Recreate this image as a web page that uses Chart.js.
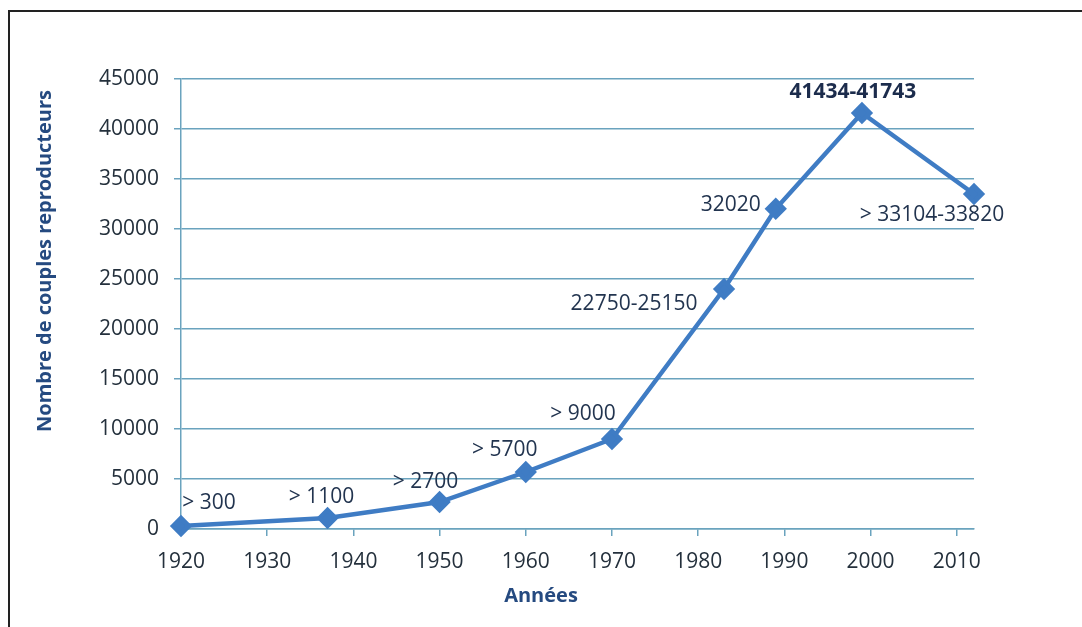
<!DOCTYPE html>
<html lang="fr">
<head>
    <meta charset="UTF-8">
    <title>Couples reproducteurs</title>
    <script src="https://cdn.jsdelivr.net/npm/chart.js@4.4.1/dist/chart.umd.min.js"></script>
    <style>
        html, body { margin: 0; padding: 0; background: #fff; }
        .box { position: relative; width: 1082px; height: 627px; overflow: hidden; }
        .frame { position: absolute; left: 8px; top: 10px; width: 1200px; height: 800px;
                 border-top: 2px solid #222; border-left: 2px solid #222; }
        canvas { position: absolute; left: 0; top: 0; }
    </style>
</head>
<body>
<div class="box">
    <div class="frame"></div>
    <canvas id="chart" width="1082" height="627"></canvas>
</div>
<script>
    // data
    const years = [1920, 1937, 1950, 1960, 1970, 1983, 1989, 1999, 2012]
    const couples = [300, 1100, 2700, 5700, 9000, 24000, 32020, 41600, 33500]
    const pointLabels = ['> 300', '> 1100', '> 2700', '> 5700', '> 9000', '22750-25150', '32020', '41434-41743', '> 33104-33820']
    const yTicks = [0, 5000, 10000, 15000, 20000, 25000, 30000, 35000, 40000, 45000]
    const xTicks = [1920, 1930, 1940, 1950, 1960, 1970, 1980, 1990, 2000, 2010]

    // where each value label sits relative to its point (px)
    const labelOffsets = [[28, -23], [-6, -21], [-14, -20], [-21, -22], [-29, -25], [-90, 15], [-45, -4], [-9, -21], [-42, 21]]
    const boldLabel = 7

    const font = '"Open Sans", "Liberation Sans", sans-serif'
    const gridColor = '#6aa3be'

    const valueLabels = {
        id: 'valueLabels',
        afterDatasetsDraw(chart) {
            const ctx = chart.ctx
            const meta = chart.getDatasetMeta(0)
            ctx.save()
            ctx.textAlign = 'center'
            ctx.textBaseline = 'middle'
            meta.data.forEach((pt, i) => {
                ctx.font = (i === boldLabel ? 'bold ' : '') + '21px ' + font
                ctx.fillStyle = i === boldLabel ? '#1c2c4c' : '#22344f'
                ctx.fillText(pointLabels[i], pt.x + labelOffsets[i][0], pt.y + labelOffsets[i][1])
            })
            ctx.restore()
        }
    }

    const axisTitles = {
        id: 'axisTitles',
        afterDraw(chart) {
            const ctx = chart.ctx
            ctx.save()
            ctx.fillStyle = '#254a80'
            ctx.font = 'bold 20px ' + font
            ctx.textAlign = 'center'
            ctx.textBaseline = 'middle'
            ctx.fillText('Années', 541, 596)
            ctx.translate(45, 261)
            ctx.rotate(-Math.PI / 2)
            ctx.fillText('Nombre de couples reproducteurs', 0, 0)
            ctx.restore()
        }
    }

    new Chart(document.getElementById('chart'), {
        type: 'line',
        data: {
            datasets: [{
                data: years.map((y, i) => ({x: y, y: couples[i]})),
                borderColor: '#3f7cc4',
                backgroundColor: '#3f7cc4',
                borderWidth: 4.5,
                pointStyle: 'rectRot',
                pointRadius: 8,
                pointHoverRadius: 8,
                tension: 0,
                clip: false
            }]
        },
        options: {
            responsive: false,
            animation: false,
            layout: {padding: {top: 79, right: 108, left: 0, bottom: 0}},
            plugins: {legend: {display: false}, tooltip: {enabled: false}},
            scales: {
                x: {
                    type: 'linear',
                    min: 1920,
                    max: 2012,
                    afterFit: s => { s.height = 98 },
                    afterBuildTicks: s => { s.ticks = xTicks.map(v => ({value: v})) },
                    ticks: {
                        callback: v => String(v),
                        color: '#24303c',
                        font: {family: font, size: 21},
                        padding: 13,
                        maxRotation: 0
                    },
                    grid: {drawOnChartArea: false, color: gridColor, lineWidth: 1.5, tickLength: 7},
                    border: {color: gridColor, width: 1.5}
                },
                y: {
                    min: 0,
                    max: 45000,
                    afterFit: s => { s.width = 181 },
                    afterBuildTicks: s => { s.ticks = yTicks.map(v => ({value: v})) },
                    ticks: {
                        callback: v => String(v),
                        color: '#24303c',
                        font: {family: font, size: 21},
                        padding: 15
                    },
                    grid: {color: gridColor, lineWidth: 1.5, tickLength: 7},
                    border: {color: gridColor, width: 1.5}
                }
            }
        },
        plugins: [valueLabels, axisTitles]
    })
</script>
</body>
</html>
